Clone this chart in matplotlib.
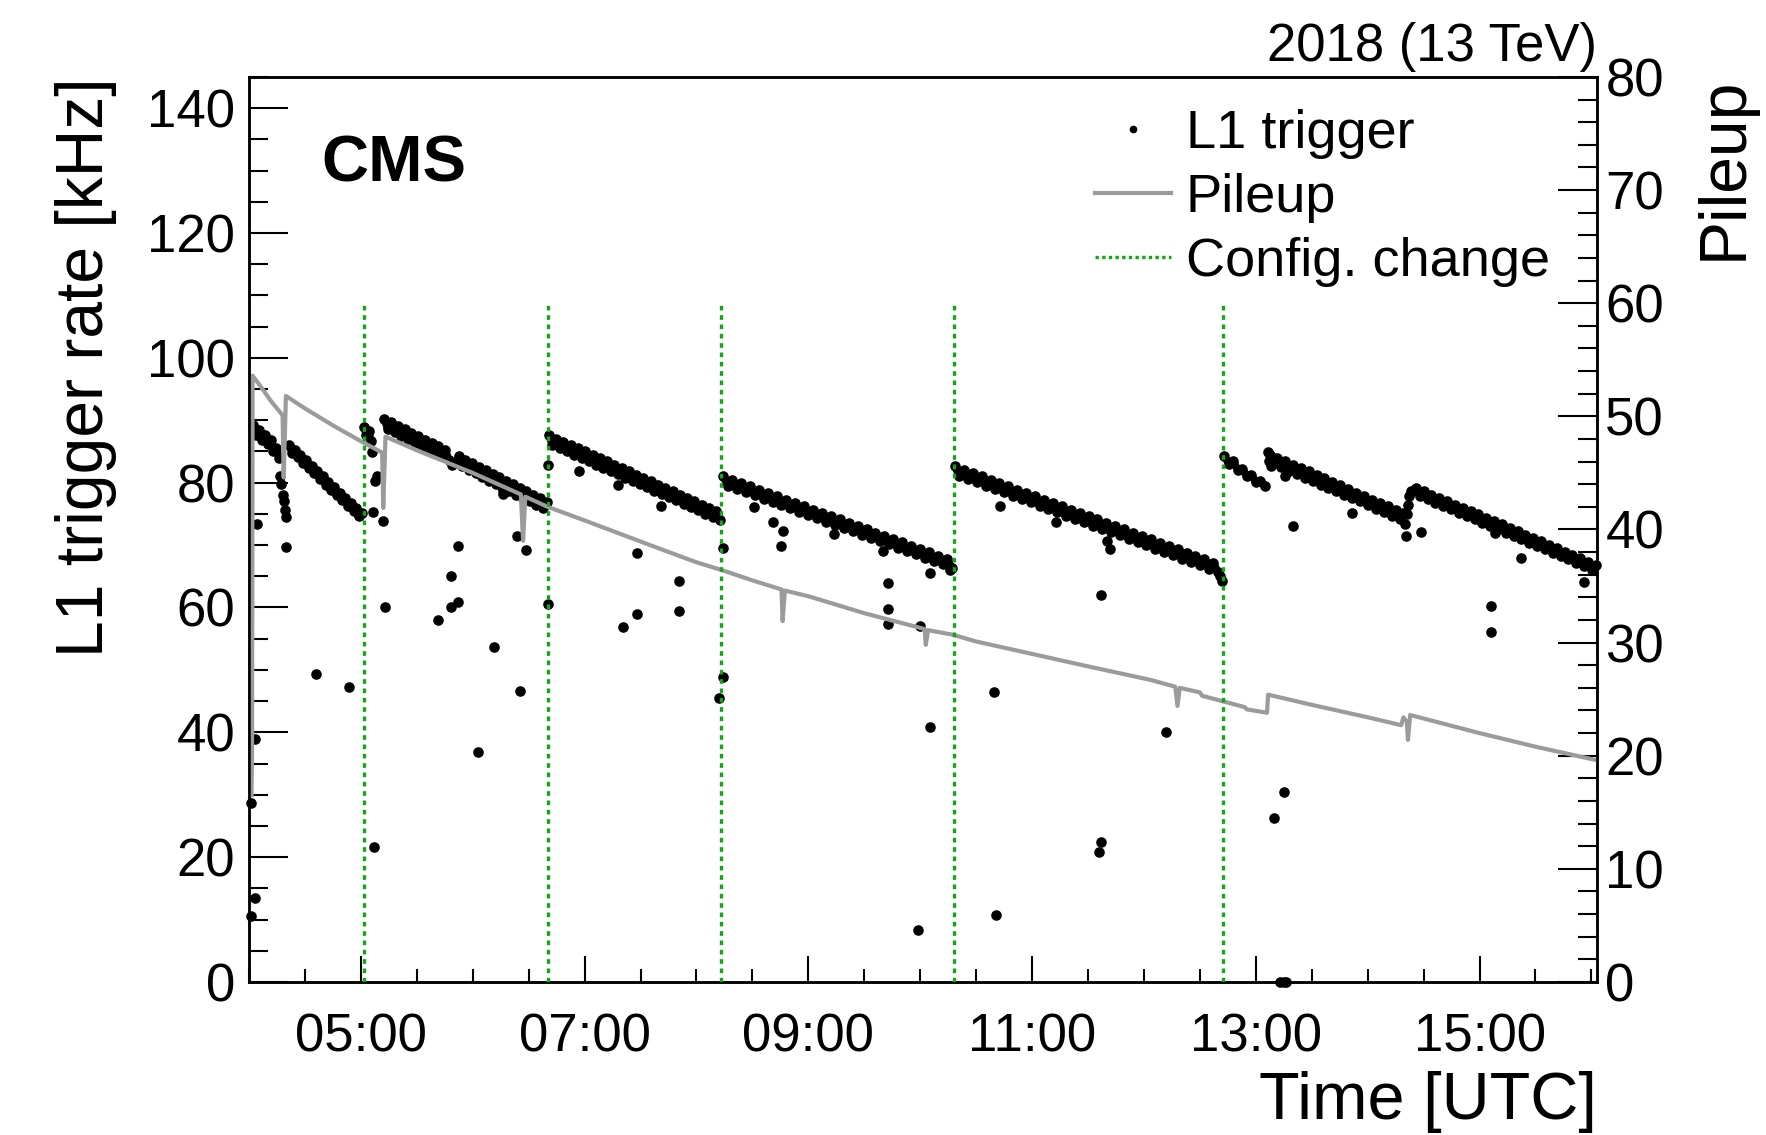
import numpy as np
import matplotlib
matplotlib.use("Agg")
import matplotlib.pyplot as plt
from matplotlib.lines import Line2D
from matplotlib.ticker import MultipleLocator, FuncFormatter

plt.rcParams['font.family'] = ['Liberation Sans', 'DejaVu Sans']

# ==== data (time in hours UTC) ====
config_change = [5.03, 6.67, 8.22, 10.30, 12.71]

# pileup (right axis)
pu_time = [4.022, 4.027, 4.032, 4.10, 4.20, 4.30, 4.31, 4.33, 4.50, 4.75, 5.00, 5.19, 5.20, 5.22,
           5.50, 6.00, 6.43, 6.45, 6.47, 6.67, 7.00, 7.59, 8.00, 8.23, 8.50, 8.76, 8.77, 8.79,
           9.00, 9.50, 10.04, 10.05, 10.07, 10.29, 10.50, 11.00, 11.50, 12.06, 12.28, 12.30, 12.32,
           12.50, 12.52, 12.71, 12.90, 12.92, 13.10, 13.11, 13.50, 14.00, 14.30, 14.32, 14.35,
           14.36, 14.38, 15.00, 15.50, 16.05]
pu_value = [16.5, 20.0, 53.6, 52.7, 51.3, 50.1, 44.6, 51.8, 50.7, 49.2, 47.8, 46.8, 41.9, 48.2,
            47.0, 45.0, 43.1, 39.0, 42.9, 42.0, 40.8, 38.6, 37.1, 36.4, 35.5, 34.7, 31.9, 34.6,
            34.1, 32.6, 31.2, 29.8, 31.1, 30.7, 30.1, 29.0, 27.9, 26.7, 26.1, 24.4, 26.0,
            25.6, 25.3, 24.8, 24.3, 24.1, 23.8, 25.4, 24.5, 23.4, 22.7, 23.4, 23.0,
            21.4, 23.6, 22.0, 20.8, 19.6]

# L1 rate bands: (start, end, values in kHz)
seg_a1 = (4.04, 4.27, [89.2, 87.6, 88.4, 86.9, 87.7, 86.2, 86.8, 85.1, 85.6, 84.0])
seg_a2 = (4.36, 5.01, [86.0, 84.8, 85.3, 84.1, 84.4, 83.2, 83.6, 82.3, 82.7, 81.5, 81.9, 80.6,
                       81.0, 79.7, 80.1, 78.9, 79.3, 78.0, 78.4, 77.2, 77.5, 76.3, 76.7, 75.5,
                       75.9, 74.8, 75.2])
seg_b0 = (5.03, 5.09, [88.9, 87.6, 88.2, 86.6])
seg_b = (5.21, 6.66, [90.2, 88.6, 89.7, 88.1, 89.1, 87.5, 88.6, 87.0, 88.0, 86.4, 87.5, 85.9,
                      86.9, 85.3, 86.4, 84.8, 85.8, 84.2, 85.3, 83.7, 82.9, 83.1, 84.2, 82.6,
                      83.6, 82.0, 83.1, 81.5, 82.5, 80.9, 82.0, 80.3, 81.4, 79.8, 80.9, 78.2,
                      80.3, 78.7, 79.8, 78.1, 79.2, 77.6, 78.7, 77.0, 78.1, 76.5, 77.6, 75.9,
                      76.9])
seg_c = (6.68, 8.21, [87.6, 86.1, 87.0, 85.6, 86.5, 85.1, 86.0, 84.5, 85.5, 84.0, 85.0, 83.5,
                      84.4, 82.9, 83.9, 82.4, 83.4, 81.9, 82.8, 81.4, 82.3, 80.8, 81.8, 80.3,
                      81.3, 79.8, 80.7, 79.3, 80.2, 78.7, 79.7, 78.2, 79.1, 77.7, 78.6, 77.2,
                      78.1, 76.6, 77.6, 76.1, 77.0, 75.6, 76.5, 75.0, 76.0, 74.5, 75.4, 74.0])
seg_d = (8.24, 10.28, [81.0, 79.5, 80.4, 79.0, 79.9, 78.5, 79.4, 78.0, 78.9, 77.4, 78.3, 76.9,
                       77.8, 76.4, 77.3, 75.9, 76.8, 75.3, 76.2, 74.8, 75.7, 74.3, 75.2, 73.7,
                       74.7, 73.2, 74.1, 72.7, 73.6, 72.2, 73.1, 71.6, 72.6, 71.1, 72.0, 70.6,
                       71.5, 70.1, 71.0, 69.5, 70.5, 69.0, 69.9, 68.5, 69.4, 68.0, 68.9, 67.4,
                       68.3, 66.9, 67.8, 66.4])
seg_e = (10.31, 12.66, [82.6, 81.1, 82.0, 80.6, 81.5, 80.1, 81.0, 79.5, 80.4, 79.0, 79.9, 78.5,
                        79.4, 77.9, 78.9, 77.4, 78.3, 76.9, 77.8, 76.3, 77.3, 75.8, 76.7, 75.3,
                        76.2, 74.7, 75.7, 74.2, 75.1, 73.7, 74.6, 73.1, 74.1, 72.6, 73.6, 72.1,
                        73.0, 71.6, 72.5, 71.0, 72.0, 70.5, 71.4, 70.0, 70.9, 69.4, 70.4, 68.9,
                        69.8, 68.4, 69.3, 67.8, 68.8, 67.3, 68.2, 66.8, 67.7, 66.2, 67.2, 65.7])
seg_f1 = (12.72, 13.08, [84.2, 83.0, 83.4, 82.0, 82.2, 81.0, 81.3, 80.1, 80.3, 79.4])
seg_f2 = (13.19, 14.32, [84.0, 82.5, 83.4, 81.9, 82.9, 81.4, 82.3, 80.8, 81.8, 80.3, 81.2, 79.7,
                         80.7, 79.2, 80.1, 78.6, 79.6, 78.1, 79.0, 77.5, 78.4, 77.0, 77.9, 76.4,
                         77.3, 75.8, 76.8, 75.3, 76.2, 74.7, 75.7, 74.2, 75.1])
seg_f3 = (14.43, 16.04, [79.2, 77.9, 78.7, 77.4, 78.1, 76.8, 77.6, 76.3, 77.0, 75.8, 76.5, 75.2,
                         76.0, 74.7, 75.4, 74.1, 74.9, 73.6, 74.3, 73.1, 73.8, 72.5, 73.3, 72.0,
                         72.7, 71.5, 72.2, 70.9, 71.6, 70.4, 71.1, 69.8, 70.6, 69.3, 70.0, 68.8,
                         69.5, 68.2, 68.9, 67.7, 68.4, 67.1, 67.9, 66.6, 67.3, 66.0, 66.8])
bands = [seg_a1, seg_a2, seg_b0, seg_b, seg_c, seg_d, seg_e, seg_f1, seg_f2, seg_f3]

# isolated L1 points (time, rate)
extra_time = [4.02, 4.05, 4.05, 4.02, 4.07,
              4.28, 4.29, 4.30, 4.31, 4.32, 4.33, 4.33, 4.60, 4.89, 4.98,
              5.11, 5.12, 5.10, 5.14, 5.13, 5.20, 5.22, 5.69, 5.81, 5.87, 5.87, 5.81, 6.19,
              6.40, 6.48, 6.42, 6.05,
              6.67, 6.67, 7.47, 7.34, 7.47, 7.84, 7.84, 7.68, 8.24, 8.24, 8.20, 6.95, 7.30,
              8.51, 8.68, 8.77, 8.76, 9.23, 9.67, 9.71, 9.71, 9.71, 10.00, 10.09, 9.98, 10.09, 10.27,
              10.71, 11.21, 11.62, 11.67, 11.70, 12.20, 11.60, 11.62, 10.68, 10.66, 12.35, 12.68, 12.70,
              13.11, 13.12, 13.13, 13.14, 13.15, 13.17, 13.33, 13.86, 14.34, 14.48,
              14.33, 14.35, 14.36, 14.37, 14.39, 14.41,
              15.37, 15.10, 15.10, 15.93, 15.14, 13.25, 13.16, 13.22, 13.25, 13.27, 13.26]
extra_rate = [28.7, 39.0, 13.4, 10.5, 73.3,
              81.0, 79.8, 78.0, 77.0, 75.6, 74.5, 69.7, 49.3, 47.2, 74.6,
              75.3, 21.7, 84.9, 81.1, 80.2, 73.9, 60.0, 58.0, 65.0, 69.9, 60.9, 60.0, 53.6,
              71.4, 69.2, 46.6, 36.9,
              82.9, 60.5, 68.8, 56.9, 58.9, 64.3, 59.4, 76.2, 69.6, 48.8, 45.5, 81.8, 79.6,
              76.1, 73.7, 72.3, 69.9, 71.7, 69.0, 63.9, 59.8, 57.4, 57.1, 65.6, 8.3, 40.8, 66.0,
              76.2, 73.7, 62.0, 70.6, 69.4, 40.1, 20.8, 22.4, 10.7, 46.4, 68.5, 65.0, 64.2,
              84.9, 83.5, 84.4, 82.6, 84.0, 83.4, 73.0, 75.1, 71.4, 72.1,
              73.4, 74.9, 76.5, 77.8, 78.6, 78.9,
              67.9, 60.3, 56.0, 64.1, 71.9, 30.4, 26.2, 0.0, 0.0, 0.0, 81.0]

# ==== plot ====
fig = plt.figure(figsize=(17.66, 11.35), dpi=100)
ax1 = fig.add_axes([0.1410, 0.1348, 0.7633, 0.7974])
ax2 = ax1.twinx()

# dense bands: points joined so the band reads as solid, like the densely sampled original
for t0, t1, vals in bands:
    ax1.plot(np.linspace(t0, t1, len(vals)), vals, '-o', ms=6.6, lw=5.5, color='black',
             mec='black', solid_joinstyle='round', solid_capstyle='round',
             clip_on=False, zorder=3)
ax1.plot(extra_time, extra_rate, 'o', ms=6.6, color='black', clip_on=False, zorder=3)

ax2.plot(pu_time, pu_value, color='#9b9b9b', lw=3.0, zorder=2)
ax2.vlines(config_change, 0, 109, colors='#14a614', lw=2.4, linestyles=(0, (1.4, 1.4)),
           transform=ax1.transData, zorder=4)

ax1.set_xlim(4.0, 16.05)
ax1.set_ylim(0, 145)
ax2.set_ylim(0, 80)

ax1.set_xticks(np.arange(5, 16, 2))
ax1.xaxis.set_major_formatter(FuncFormatter(lambda v, p: f"{int(round(v)) % 24:02d}:00"))
ax1.xaxis.set_minor_locator(MultipleLocator(0.5))
ax1.yaxis.set_major_locator(MultipleLocator(20))
ax1.yaxis.set_minor_locator(MultipleLocator(5))
ax2.yaxis.set_major_locator(MultipleLocator(10))
ax2.yaxis.set_minor_locator(MultipleLocator(2))

ax1.tick_params(axis='x', which='both', direction='in', top=False, labelsize=38, pad=22, width=1.5)
ax1.tick_params(axis='x', which='major', length=19)
ax1.tick_params(axis='x', which='minor', length=9.5)
ax1.tick_params(axis='y', which='both', direction='in', right=False, labelsize=38, pad=10, width=1.5)
ax1.tick_params(axis='y', which='major', length=28)
ax1.tick_params(axis='y', which='minor', length=14)
ax2.tick_params(axis='y', which='both', direction='in', labelsize=38, pad=6, width=1.5)
ax2.tick_params(axis='y', which='major', length=28)
ax2.tick_params(axis='y', which='minor', length=14)

for a in (ax1, ax2):
    for s in a.spines.values():
        s.set_linewidth(1.8)

ax1.set_ylabel("L1 trigger rate [kHz]", fontsize=47.5, loc='top')
ax1.yaxis.set_label_coords(-0.098, 1.0)
ax2.set_ylabel("Pileup", fontsize=47.5, loc='top')
ax2.yaxis.set_label_coords(1.072, 1.0)
ax1.set_xlabel("Time [UTC]", fontsize=48, loc='right', labelpad=6)

ax1.text(0.0534, 0.903, "CMS", transform=ax1.transAxes, fontsize=47, fontweight='bold',
         ha='left', va='center')
ax1.text(1.0, 1.006, "2018 (13 TeV)", transform=ax1.transAxes, fontsize=38,
         ha='right', va='bottom')

handles = [Line2D([], [], marker='o', ls='none', ms=4.5, color='black'),
           Line2D([], [], color='#9b9b9b', lw=3.0),
           Line2D([], [], color='#14a614', lw=2.4, ls=(0, (1.0, 1.0)))]
ax2.legend(handles, ["L1 trigger", "Pileup", "Config. change"], loc='upper left',
           bbox_to_anchor=(0.620, 0.904), bbox_transform=fig.transFigure, frameon=False,
           fontsize=39, handlelength=1.4, handletextpad=0.28, labelspacing=0.26,
           borderpad=0, borderaxespad=0)

fig.savefig("out.png", dpi=100)
